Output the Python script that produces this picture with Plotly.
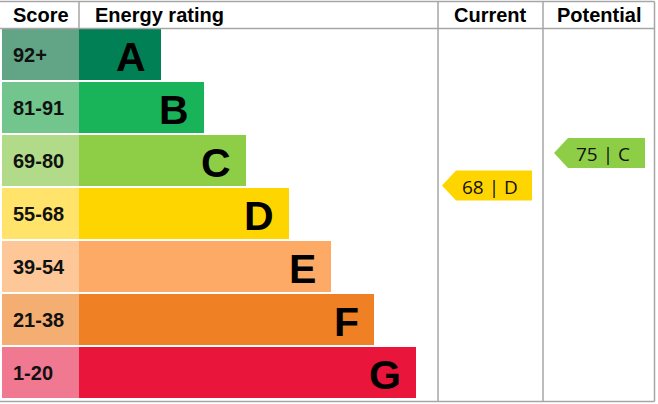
import plotly.graph_objects as go

# ---- data ----
bands = ["A", "B", "C", "D", "E", "F", "G"]
score_ranges = ["92+", "81-91", "69-80", "55-68", "39-54", "21-38", "1-20"]
band_colors = ["#008054", "#19b459", "#8dce46", "#ffd500", "#fcaa65", "#ef8023", "#e9153b"]
score_colors = ["#62a586", "#72c68d", "#b1db88", "#ffe36a", "#fdc797", "#f5ae72", "#f07891"]
current_score = 68
current_band = "D"
potential_score = 75
potential_band = "C"
headers = ["Score", "Energy rating", "Current", "Potential"]

# ---- layout geometry (pixels) ----
W, H = 658, 404
top_y = 29
row_pitch = 53
row_h = 51
score_x0, bar_x0 = 2, 79
first_bar_end, bar_step = 161, 42.5
col1, col2, right_x = 438, 543, 654.5

row_centers = [top_y + row_h / 2 + i * row_pitch for i in range(len(bands))]
bar_lengths = [first_bar_end - bar_x0 + i * bar_step for i in range(len(bands))]

fig = go.Figure()

# score cells
fig.add_trace(go.Bar(
    orientation="h", y=row_centers, x=[bar_x0 - score_x0] * len(bands), base=score_x0,
    width=row_h, marker=dict(color=score_colors, line=dict(width=0)),
    hoverinfo="skip", showlegend=False))
# band bars
fig.add_trace(go.Bar(
    orientation="h", y=row_centers, x=bar_lengths, base=bar_x0,
    width=row_h, marker=dict(color=band_colors, line=dict(width=0)),
    hoverinfo="skip", showlegend=False))

annotations = []
for i, b in enumerate(bands):
    annotations.append(dict(x=11, y=row_centers[i], text="<b>%s</b>" % score_ranges[i], xanchor="left",
                            yanchor="middle", showarrow=False,
                            font=dict(family="Liberation Sans, Arial", size=20, color="#111111")))
    annotations.append(dict(x=bar_x0 + bar_lengths[i] - 13, y=row_centers[i] + 2, text="<b>%s</b>" % b,
                            xanchor="right", yanchor="middle", showarrow=False,
                            font=dict(family="Liberation Sans, Arial", size=41, color="#000000")))

# headers
hdr_font = dict(family="Liberation Sans, Arial", size=20, color="#000000")
annotations += [
    dict(x=(score_x0 + bar_x0) / 2, y=15, text="<b>%s</b>" % headers[0], xanchor="center", yanchor="middle", showarrow=False, font=hdr_font),
    dict(x=93, y=15, text="<b>%s</b>" % headers[1], xanchor="left", yanchor="middle", showarrow=False, font=hdr_font),
    dict(x=(col1 + col2) / 2, y=15, text="<b>%s</b>" % headers[2], xanchor="center", yanchor="middle", showarrow=False, font=hdr_font),
    dict(x=(col2 + right_x) / 2, y=15, text="<b>%s</b>" % headers[3], xanchor="center", yanchor="middle", showarrow=False, font=hdr_font),
]


def score_to_y(s):
    # linear score scale for the rating arrows
    return 153 + (75 - s) * (32.5 / 7)


def arrow(score, band, x_tip, x_end):
    yc = score_to_y(score)
    h = 15
    notch = 14
    xs = [x_tip, x_tip + notch, x_end, x_end, x_tip + notch, x_tip]
    ys = [yc, yc - h, yc - h, yc + h, yc + h, yc]
    color = band_colors[bands.index(band)]
    fig.add_trace(go.Scatter(x=xs, y=ys, fill="toself", fillcolor=color, mode="lines",
                             line=dict(width=0, color=color), hoverinfo="skip", showlegend=False))
    annotations.append(dict(x=x_end - 42, y=yc + 1, text="%d | %s" % (score, band), xanchor="center",
                            yanchor="middle", showarrow=False,
                            font=dict(family="Open Sans, Noto Sans", size=19, color="#111111")))


arrow(current_score, current_band, 442, 532)
arrow(potential_score, potential_band, 554, 645)

line_c = "#a6a6a6"
shapes = [
    dict(type="line", x0=0, x1=right_x, y0=1.5, y1=1.5, line=dict(color=line_c, width=1.5)),
    dict(type="line", x0=0, x1=right_x, y0=28.5, y1=28.5, line=dict(color=line_c, width=1.5)),
    dict(type="line", x0=0, x1=right_x, y0=401.5, y1=401.5, line=dict(color=line_c, width=1.5)),
    dict(type="line", x0=bar_x0, x1=bar_x0, y0=1.5, y1=28.5, line=dict(color=line_c, width=1.5)),
    dict(type="line", x0=col1, x1=col1, y0=1.5, y1=401.5, line=dict(color=line_c, width=1.5)),
    dict(type="line", x0=col2, x1=col2, y0=1.5, y1=401.5, line=dict(color=line_c, width=1.5)),
    dict(type="line", x0=right_x, x1=right_x, y0=1.5, y1=401.5, line=dict(color=line_c, width=1.5)),
]

fig.update_layout(
    width=W, height=H, margin=dict(l=0, r=0, t=0, b=0),
    paper_bgcolor="white", plot_bgcolor="white", barmode="overlay", bargap=0,
    xaxis=dict(range=[0, W], visible=False, fixedrange=True),
    yaxis=dict(range=[H, 0], visible=False, fixedrange=True),
    annotations=annotations, shapes=shapes,
)
fig.write_html("out.html", config={"displayModeBar": False},
               post_script="document.body.style.margin='0';document.body.style.overflow='hidden';")
